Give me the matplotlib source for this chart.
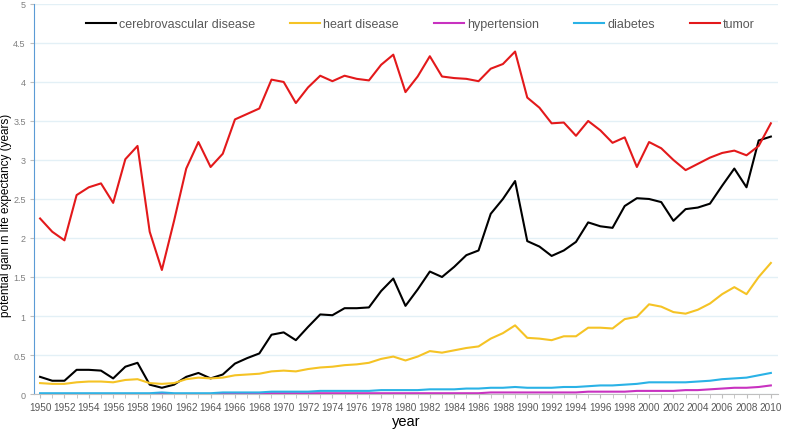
import numpy as np
import matplotlib.pyplot as plt

years = list(range(1950, 2011))

cerebro = [0.22, 0.17, 0.17, 0.31, 0.31, 0.30, 0.20, 0.35, 0.40, 0.12,
           0.08, 0.12, 0.22, 0.27, 0.20, 0.25, 0.39, 0.46, 0.52, 0.76,
           0.79, 0.69, 0.86, 1.02, 1.01, 1.10, 1.10, 1.11, 1.32, 1.48,
           1.13, 1.34, 1.57, 1.50, 1.63, 1.78, 1.84, 2.31, 2.50, 2.73,
           1.96, 1.89, 1.77, 1.84, 1.95, 2.20, 2.15, 2.13, 2.41, 2.51,
           2.50, 2.46, 2.22, 2.37, 2.39, 2.44, 2.67, 2.89, 2.65, 3.25,
           3.30]

heart = [0.14, 0.13, 0.13, 0.15, 0.16, 0.16, 0.15, 0.18, 0.19, 0.14,
         0.13, 0.14, 0.19, 0.21, 0.20, 0.21, 0.24, 0.25, 0.26, 0.29,
         0.30, 0.29, 0.32, 0.34, 0.35, 0.37, 0.38, 0.40, 0.45, 0.48,
         0.43, 0.48, 0.55, 0.53, 0.56, 0.59, 0.61, 0.71, 0.78, 0.88,
         0.72, 0.71, 0.69, 0.74, 0.74, 0.85, 0.85, 0.84, 0.96, 0.99,
         1.15, 1.12, 1.05, 1.03, 1.08, 1.16, 1.28, 1.37, 1.28, 1.50,
         1.68]

hypertension = [0.00, 0.00, 0.00, 0.00, 0.00, 0.00, 0.00, 0.00, 0.00, 0.00,
                0.01, 0.00, 0.00, 0.00, 0.00, 0.00, 0.00, 0.01, 0.01, 0.01,
                0.01, 0.01, 0.01, 0.01, 0.01, 0.01, 0.01, 0.01, 0.01, 0.01,
                0.01, 0.01, 0.01, 0.01, 0.01, 0.01, 0.01, 0.02, 0.02, 0.02,
                0.02, 0.02, 0.02, 0.02, 0.02, 0.03, 0.03, 0.03, 0.03, 0.04,
                0.04, 0.04, 0.04, 0.05, 0.05, 0.06, 0.07, 0.08, 0.08, 0.09,
                0.11]

diabetes = [0.01, 0.01, 0.01, 0.01, 0.01, 0.01, 0.01, 0.01, 0.01, 0.01,
            0.02, 0.01, 0.01, 0.01, 0.01, 0.02, 0.02, 0.02, 0.02, 0.03,
            0.03, 0.03, 0.03, 0.04, 0.04, 0.04, 0.04, 0.04, 0.05, 0.05,
            0.05, 0.05, 0.06, 0.06, 0.06, 0.07, 0.07, 0.08, 0.08, 0.09,
            0.08, 0.08, 0.08, 0.09, 0.09, 0.10, 0.11, 0.11, 0.12, 0.13,
            0.15, 0.15, 0.15, 0.15, 0.16, 0.17, 0.19, 0.20, 0.21, 0.24,
            0.27]

tumor = [2.25, 2.08, 1.97, 2.55, 2.65, 2.70, 2.45, 3.01, 3.18, 2.08,
         1.59, 2.22, 2.89, 3.23, 2.91, 3.08, 3.52, 3.59, 3.66, 4.03,
         4.00, 3.73, 3.93, 4.08, 4.01, 4.08, 4.04, 4.02, 4.22, 4.35,
         3.87, 4.07, 4.33, 4.07, 4.05, 4.04, 4.01, 4.17, 4.23, 4.39,
         3.80, 3.67, 3.47, 3.48, 3.31, 3.50, 3.38, 3.22, 3.29, 2.91,
         3.23, 3.15, 3.00, 2.87, 2.95, 3.03, 3.09, 3.12, 3.06, 3.18,
         3.47]

series = [("cerebrovascular disease", cerebro, "#000000"),
          ("heart disease", heart, "#f5c325"),
          ("hypertension", hypertension, "#c832c0"),
          ("diabetes", diabetes, "#2ab2e6"),
          ("tumor", tumor, "#e3191b")]

plt.rcParams['font.family'] = ['Liberation Sans', 'DejaVu Sans']

fig = plt.figure(figsize=(7.85, 4.31), dpi=100)
ax = fig.add_axes([0.0433, 0.0835, 0.948, 0.905])

for name, vals, col in series:
    ax.plot(years, vals, color=col, lw=1.5, label=name)

ax.set_xlim(1949.5, 2010.6)
ax.set_ylim(0, 5)
ax.set_yticks(np.arange(0, 5.01, 0.5))
ax.set_yticklabels(["0", "0.5", "1", "1.5", "2", "2.5", "3", "3.5", "4", "4.5", "5"])
ax.set_xticks(range(1950, 2011, 2))
ax.set_xticks(range(1950, 2011), minor=True)
ax.tick_params(axis='x', which='both', direction='out', length=3, color='#bfbfbf',
               labelsize=7.2, labelcolor='#595959', pad=3)
ax.tick_params(axis='y', direction='out', length=3, color='#bfbfbf',
               labelsize=6.5, labelcolor='#7f7f7f', pad=3)

ax.grid(axis='y', color='#e3f0f6', lw=1)
ax.set_axisbelow(True)
for s in ['top', 'right']:
    ax.spines[s].set_visible(False)
ax.spines['left'].set_color('#5b9bd5')
ax.spines['bottom'].set_color('#bfbfbf')

ax.set_xlabel("year", fontsize=10.5, labelpad=1)
ax.set_ylabel("potential gain in life expectancy (years)", fontsize=8.5)
ax.yaxis.set_label_coords(-0.0295, 0.46)

leg = fig.legend(loc='center left', ncol=5, frameon=False, fontsize=9,
                 bbox_to_anchor=(86 / 785, 0.942), borderpad=0, borderaxespad=0,
                 handlelength=2.4, columnspacing=2.8, handletextpad=0.25)
for t in leg.get_texts():
    t.set_color('#595959')

fig.savefig("out.png", dpi=100)
